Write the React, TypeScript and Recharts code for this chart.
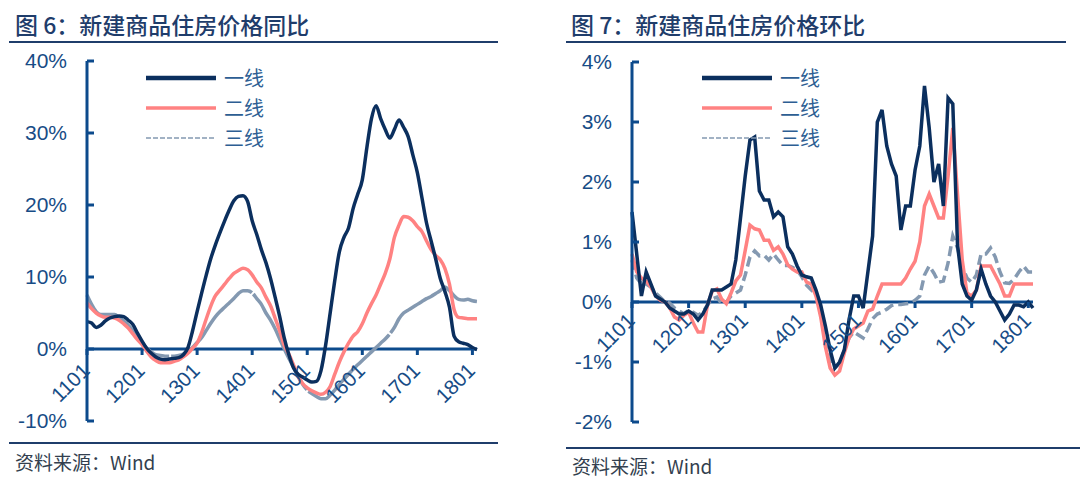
import React from 'react';
import { LineChart, Line, XAxis, YAxis, ReferenceLine, ReferenceDot } from 'recharts';

// ---------- categories ----------
const months: string[] = [];
for (let y = 11; y <= 18; y++) {
  for (let m = 1; m <= 12; m++) {
    if (y === 18 && m > 2) break;
    months.push(`${y}${m < 10 ? '0' + m : m}`);
  }
}
const xTickLabels = ['1101', '1201', '1301', '1401', '1501', '1601', '1701', '1801'];
const leftYTicks = [-10, 0, 10, 20, 30, 40];
const rightYTicks = [-2, -1, 0, 1, 2, 3, 4];
const seriesNames = ['一线', '二线', '三线'];

// ---------- 图6 同比 (%) ----------
const yoyTier1 = [
  3.8, 3.6, 3.0, 3.3, 3.9, 4.3, 4.5, 4.6, 4.5, 4.0,
  3.4, 2.2, 1.1, 0.1, -0.6, -1.1, -1.4, -1.5, -1.4, -1.3,
  -1.2, -0.8, 0.2, 2.5, 5.2, 7.8, 10.3, 12.6, 14.5, 16.2,
  17.8, 19.3, 20.6, 21.2, 21.3, 20.5, 17.8, 15.9, 13.8, 12.0,
  9.8, 7.2, 4.5, 1.5, -0.8, -2.6, -3.5, -3.9, -4.3, -4.6,
  -4.5, -3.0, 0.5, 5.0, 9.5, 13.5, 15.5, 16.8, 19.5, 21.5,
  23.5, 28.0, 32.0, 33.8, 32.0, 30.5, 29.3, 30.5, 31.8, 30.8,
  29.5, 27.0, 24.5, 21.0, 17.5, 15.0, 12.5, 9.8, 8.0, 5.8,
  1.8, 1.0, 0.8, 0.6, 0.2, -0.1,
];
const yoyTier2 = [
  6.4, 5.6, 5.0, 4.6, 4.4, 4.4, 4.3, 4.0, 3.5, 2.9,
  2.1, 1.3, 0.6, -0.3, -1.1, -1.6, -1.9, -1.9, -1.9, -1.7,
  -1.5, -1.1, -0.6, 0.1, 0.8, 2.3, 4.2, 6.0, 7.4, 8.2,
  9.0, 9.8, 10.5, 10.9, 11.2, 11.0, 10.3, 9.3, 8.5, 7.2,
  6.0, 4.3, 2.5, 0.5, -0.7, -2.2, -3.7, -4.8, -5.4, -5.8,
  -6.1, -6.3, -6.0, -5.2, -3.5, -1.8, -0.4, 0.8, 1.8, 2.4,
  3.5, 5.0, 6.3, 7.5, 9.0, 10.5, 12.5, 15.5, 17.2, 18.4,
  18.3, 17.8, 17.0, 16.3, 15.0, 13.8, 13.0, 12.4, 11.2, 9.0,
  5.5, 4.4, 4.3, 4.2, 4.2, 4.2,
];
const yoyTier3 = [
  7.5, 6.2, 5.2, 4.8, 4.8, 4.8, 4.8, 4.4, 3.9, 3.3,
  2.6, 1.8, 0.9, 0.1, -0.4, -0.8, -0.9, -1.0, -1.0, -1.0,
  -0.9, -0.7, -0.4, 0.2, 0.9, 1.6, 2.6, 3.6, 4.5, 5.2,
  5.8, 6.4, 7.0, 7.7, 8.1, 8.1, 7.8, 7.0, 6.2, 5.0,
  4.0, 2.8, 1.4, 0.0, -1.3, -2.5, -3.8, -4.9, -5.7, -6.2,
  -6.6, -6.9, -6.9, -6.4, -5.7, -4.9, -4.2, -3.5, -2.8, -2.2,
  -1.6, -1.0, -0.4, 0.2, 0.8, 1.4, 2.1, 3.0, 4.2, 5.0,
  5.4, 5.8, 6.2, 6.6, 7.0, 7.3, 7.7, 8.1, 8.6, 8.1,
  7.4, 6.9, 6.8, 6.9, 6.7, 6.6,
];

// ---------- 图7 环比 (%) ----------
const momTier1 = [
  1.5, 0.8, 0.1, 0.5, 0.3, 0.1, 0.05, 0.0, -0.1, -0.15,
  -0.2, -0.2, -0.15, -0.2, -0.3, -0.2, -0.05, 0.2, 0.2, 0.2,
  0.25, 0.3, 0.7, 1.4, 2.1, 2.7, 2.75, 1.85, 1.7, 1.7,
  1.42, 1.5, 1.42, 0.92, 0.8, 0.6, 0.45, 0.42, 0.4, 0.2,
  -0.05, -0.4, -0.8, -1.1, -1.0, -0.8, -0.3, 0.1, 0.1, -0.1,
  0.5, 1.1, 3.0, 3.2, 2.6, 2.3, 2.1, 1.2, 1.6, 1.6,
  2.2, 2.6, 3.6, 2.9, 2.0, 2.3, 1.6, 3.4, 3.3, 0.95,
  0.3, 0.1, 0.03, 0.2, 0.55, 0.3, 0.1, 0.0, -0.15, -0.3,
  -0.2, -0.05, -0.05, -0.08, 0.0, -0.1,
];
const momTier2 = [
  0.8, 0.5, 0.4, 0.35, 0.25, 0.1, 0.03, 0.0, -0.1, -0.25,
  -0.3, -0.22, -0.17, -0.35, -0.5, -0.5, -0.05, 0.18, 0.22, 0.05,
  -0.03, 0.15, 0.35, 0.45, 0.86, 1.28, 1.22, 1.2, 1.03, 1.03,
  0.86, 0.92, 0.8, 0.62, 0.55, 0.5, 0.5, 0.33, 0.3, 0.1,
  -0.25, -0.75, -1.1, -1.22, -1.15, -0.85, -0.6, -0.45, -0.4, -0.35,
  -0.15, -0.12, 0.1, 0.3, 0.3, 0.3, 0.3, 0.3, 0.4, 0.55,
  0.68, 1.0, 1.6, 1.8, 1.6, 1.4, 1.4, 2.1, 2.9, 1.8,
  0.7, 0.15, 0.1, 0.2, 0.6, 0.6, 0.6, 0.45, 0.3, 0.1,
  0.1, 0.3, 0.3, 0.3, 0.3, 0.3,
];
const momTier3 = [
  0.7, 0.4, 0.3, 0.3, 0.25, 0.15, 0.08, 0.0, -0.02, -0.1,
  -0.15, -0.2, -0.14, -0.17, -0.22, -0.17, -0.05, 0.05, 0.08, -0.03,
  0.0, 0.1, 0.15, 0.2, 0.45, 0.75, 0.85, 0.77, 0.78, 0.7,
  0.8, 0.7, 0.61, 0.61, 0.58, 0.53, 0.42, 0.28, 0.2, 0.14,
  -0.2, -0.6, -0.95, -1.1, -1.02, -0.8, -0.6, -0.5, -0.55, -0.6,
  -0.45, -0.28, -0.2, -0.17, -0.12, -0.06, -0.04, -0.04, -0.03, -0.02,
  0.03, 0.1, 0.45, 0.6, 0.48, 0.33, 0.35, 0.65, 1.1, 0.9,
  0.6, 0.4, 0.33, 0.45, 0.8, 0.8, 0.9, 0.75, 0.5, 0.32,
  0.31, 0.38, 0.5, 0.6, 0.5, 0.5,
];

const yoyData = months.map((m, i) => ({ m, a: yoyTier1[i], b: yoyTier2[i], c: yoyTier3[i] }));
const momData = months.map((m, i) => ({ m, a: momTier1[i], b: momTier2[i], c: momTier3[i] }));

// ---------- styles ----------
const AXIS = '#0C4A8C';
const LABEL = '#174C86';
const NAVY = '#0B2F5E';
const PINK = '#FF8282';
const GREY = '#8499B1';
const HEAD = '#1F3D6B';
const NUM_FONT = '"Liberation Sans", Arial, sans-serif';
const CJK_FONT = '"Noto Sans CJK SC", "Noto Sans", sans-serif';

const makeXTick = (label: string, drop: number) => (p: any) => {
  const tx = p.cx + 4;
  const ty = p.cy + drop;
  return (
    <g>
      <line x1={p.cx} y1={p.cy} x2={p.cx} y2={p.cy + 6} stroke={AXIS} strokeWidth={3} />
      <text
        x={tx}
        y={ty}
        transform={`rotate(-45 ${tx} ${ty})`}
        textAnchor="end"
        fill={LABEL}
        fontSize={20.5}
        fontFamily={NUM_FONT}
      >
        {label}
      </text>
    </g>
  );
};

const legendStyles = [
  { color: NAVY, width: 4.5, dash: undefined as string | undefined },
  { color: PINK, width: 3.5, dash: undefined as string | undefined },
  { color: GREY, width: 1.5, dash: '5 2' },
];

function LegendBox({ left, top }: { left: number; top: number }) {
  return (
    <div style={{ position: 'absolute', left, top }}>
      {seriesNames.map((name, i) => (
        <div key={name} style={{ height: 30, display: 'flex', alignItems: 'center' }}>
          <svg width={70} height={10} style={{ display: 'block' }}>
            <line
              x1={0}
              y1={5}
              x2={70}
              y2={5}
              stroke={legendStyles[i].color}
              strokeWidth={legendStyles[i].width}
              strokeDasharray={legendStyles[i].dash}
            />
          </svg>
          <span
            style={{
              marginLeft: 8,
              fontSize: 20,
              lineHeight: '30px',
              color: '#2D5E93',
              fontFamily: CJK_FONT,
            }}
          >
            {name}
          </span>
        </div>
      ))}
    </div>
  );
}

const titleStyle: React.CSSProperties = {
  position: 'absolute',
  top: 11,
  fontSize: 23,
  lineHeight: '26px',
  fontWeight: 500,
  color: HEAD,
  fontFamily: CJK_FONT,
  whiteSpace: 'nowrap',
};
const sourceStyle: React.CSSProperties = {
  position: 'absolute',
  fontSize: 19,
  lineHeight: '20px',
  color: '#333F4F',
  fontFamily: CJK_FONT,
  whiteSpace: 'nowrap',
};
const ruleStyle = (left: number, top: number, width: number): React.CSSProperties => ({
  position: 'absolute',
  left,
  top,
  width,
  height: 0,
  borderTop: `2px solid ${HEAD}`,
});

export default function App() {
  return (
    <div style={{ position: 'absolute', left: 0, top: 0, width: 1080, height: 490, background: '#fff', overflow: 'hidden' }}>
      {/* ---------- Left panel ---------- */}
      <div style={{ ...titleStyle, left: 15 }}>图 6：新建商品住房价格同比</div>
      <div style={ruleStyle(9, 41, 489)} />
      <div style={{ position: 'absolute', left: 0, top: 0 }}>
        <LineChart width={540} height={490} data={yoyData} margin={{ top: 61, right: 63, bottom: 69, left: 0 }}>
          <XAxis dataKey="m" hide />
          <YAxis
            width={87}
            domain={[-10, 40]}
            ticks={leftYTicks}
            interval={0}
            tickFormatter={(v: number) => `${v}%`}
            axisLine={{ stroke: AXIS, strokeWidth: 3 }}
            tickLine={{ stroke: AXIS, strokeWidth: 3 }}
            tickSize={-7}
            tickMargin={27}
            tick={{ fill: LABEL, fontSize: 21, fontFamily: NUM_FONT }}
          />
          <ReferenceLine y={0} stroke={AXIS} strokeWidth={3} />
          {xTickLabels.map((t) => (
            <ReferenceDot key={t} x={t} y={0} r={0} shape={makeXTick(t, 23)} />
          ))}
          <Line dataKey="c" type="monotone" stroke={GREY} strokeWidth={3.5} strokeDasharray="110 2" dot={false} isAnimationActive={false} />
          <Line dataKey="b" type="monotone" stroke={PINK} strokeWidth={3.5} dot={false} isAnimationActive={false} />
          <Line dataKey="a" type="monotone" stroke={NAVY} strokeWidth={3.5} dot={false} isAnimationActive={false} />
        </LineChart>
      </div>
      <LegendBox left={146} top={63} />
      <div style={ruleStyle(9, 442, 489)} />
      <div style={{ ...sourceStyle, left: 15, top: 452 }}>资料来源：Wind</div>

      {/* ---------- Right panel ---------- */}
      <div style={{ ...titleStyle, left: 571 }}>图 7：新建商品住房价格环比</div>
      <div style={ruleStyle(566, 41, 500)} />
      <div style={{ position: 'absolute', left: 540, top: 0 }}>
        <LineChart width={540} height={490} data={momData} margin={{ top: 62, right: 47, bottom: 68, left: 0 }}>
          <XAxis dataKey="m" hide />
          <YAxis
            width={92}
            domain={[-2, 4]}
            ticks={rightYTicks}
            interval={0}
            tickFormatter={(v: number) => `${v}%`}
            axisLine={{ stroke: AXIS, strokeWidth: 3 }}
            tickLine={{ stroke: AXIS, strokeWidth: 3 }}
            tickSize={-7}
            tickMargin={27}
            tick={{ fill: LABEL, fontSize: 21, fontFamily: NUM_FONT }}
          />
          <ReferenceLine y={0} stroke={AXIS} strokeWidth={3} />
          {xTickLabels.map((t) => (
            <ReferenceDot key={t} x={t} y={0} r={0} shape={makeXTick(t, 20)} />
          ))}
          <Line dataKey="c" type="linear" stroke={GREY} strokeWidth={3.5} strokeDasharray="10 5" dot={false} isAnimationActive={false} />
          <Line dataKey="b" type="linear" stroke={PINK} strokeWidth={3.5} dot={false} isAnimationActive={false} />
          <Line dataKey="a" type="linear" stroke={NAVY} strokeWidth={3.5} dot={false} isAnimationActive={false} />
        </LineChart>
      </div>
      <LegendBox left={702} top={63} />
      <div style={ruleStyle(566, 447, 514)} />
      <div style={{ ...sourceStyle, left: 572, top: 456 }}>资料来源：Wind</div>
    </div>
  );
}
